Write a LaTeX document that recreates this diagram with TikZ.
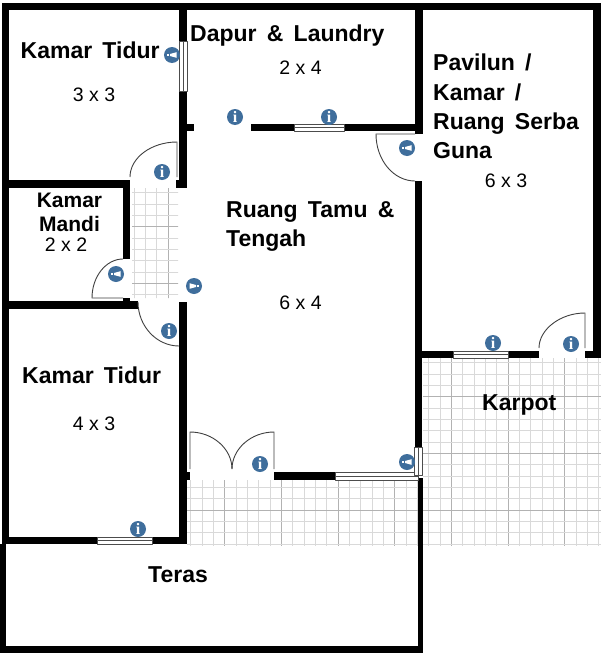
\documentclass[tikz,border=0pt]{standalone}
\usepackage{fontspec}
\setmainfont{Liberation Sans}
\newfontfamily\namefont[WordSpace=1.6]{Liberation Sans}
\newfontfamily\signfont{Liberation Serif}
\definecolor{signblue}{HTML}{3F6E9C}
\tikzset{
  roomname/.style={font=\namefont\bfseries\fontsize{23}{29.3}\selectfont,anchor=base west,inner sep=0,align=left},
  roomsize/.style={font=\fontsize{19.5}{24}\selectfont,anchor=base,inner sep=0},
  infosign/.style={circle,fill=signblue,minimum size=16,inner sep=0,text=white,font=\signfont\bfseries\fontsize{16}{16}\selectfont},
  doorsign/.style={circle,fill=signblue,minimum size=16,inner sep=0},
  leaf/.style={line width=0.9,color=black!75},
  pane/.style={line width=0.8,color=black!70,fill=white}
}
\begin{document}
\begin{tikzpicture}[x=1pt,y=-1pt,line join=round]
  \useasboundingbox (0,0) rectangle (601,653);
  \fill [white] (0,0) rectangle (601,653);
  % tiles
  \begin{scope}
    \clip (132,188) rectangle (178,298) (187,480) rectangle (418,546) (423,358) rectangle (601,546);
    \foreach \i in {0,...,41} {
        \pgfmathtruncatemacro{\m}{mod(\i,5)}
        \ifnum \m=3 \draw [color=gray!60,line width=0.7] (134+11.33*\i,188) -- (134+11.33*\i,546);
        \else \draw [color=gray!30,line width=0.7] (134+11.33*\i,188) -- (134+11.33*\i,546); \fi
      }
    \foreach \j in {0,...,31} {
        \pgfmathtruncatemacro{\m}{mod(\j,5)}
        \ifnum \m=3 \draw [color=gray!60,line width=0.7] (130,192.8+11.33*\j) -- (601,192.8+11.33*\j);
        \else \draw [color=gray!30,line width=0.7] (130,192.8+11.33*\j) -- (601,192.8+11.33*\j); \fi
      }
  \end{scope}
  % walls
  \foreach \xa/\ya/\xb/\yb in {2/3/601/10, 2/3/9/544, 179/10/187/41, 179/91/187/188, 176/180/187/188,
      187/124/194/131, 251/124/294/131, 344/124/423/131, 415/3/423/134, 415/181/422/447,
      593/3/601/358, 415/351/453/358, 508/351/539/358, 585/351/601/358,
      2/180/130/188, 123/180/130/259, 123/298/130/302, 2/301/138/309,
      179/302/187/544, 179/472/190/480, 274/472/335/480, 2/537/97/544, 152/537/187/544,
      418/478/423/653, 0/544/6/653, 0/646/423/653} {
      \fill (\xa,\ya) rectangle (\xb,\yb);
    }
  % windows
  \foreach \xa/\ya/\xb/\yb in {294/124/344/131, 335/472/418/480, 97/537/152/544, 453/351/508/358} {
      \draw [pane] (\xa,\ya) rectangle (\xb,\yb);
      \draw [pane] (\xa,\ya/2+\yb/2) -- (\xb,\ya/2+\yb/2);
    }
  \foreach \xa/\ya/\xb/\yb in {179/41/187/91, 414/447/422/475} {
      \draw [pane] (\xa,\ya) rectangle (\xb,\yb);
      \draw [pane] (\xa/2+\xb/2,\ya) -- (\xa/2+\xb/2,\yb);
    }
  % doors
  \draw [leaf] (130,177) .. controls (130,158) and (151,142) .. (177,142) -- (177,177);
  \draw [leaf] (415,181) .. controls (393.5,181) and (376,160) .. (376,134) -- (415,134);
  \draw [leaf] (123,259) .. controls (106,259) and (92,276.5) .. (92,298) -- (123,298);
  \draw [leaf] (138,302) .. controls (138,326) and (156.5,346) .. (179,346);
  \draw [leaf] (190,469) -- (190,432) .. controls (213,432) and (232,449) .. (232,469);
  \draw [leaf] (274,469) -- (274,432) .. controls (251,432) and (232,449) .. (232,469);
  \draw [leaf] (539,348) .. controls (539,329.7) and (560,313) .. (585,313) -- (585,348);
  % signs
  \foreach \x/\y [count=\n] in {235/117, 329/117, 162/172, 169/331, 260/464, 138/529, 493/343, 571/344} {
      \node (info\n) [infosign] at (\x,\y) {i};
    }
  \foreach \x/\y/\s [count=\n] in {172/55/1, 407/148/1, 116/274/1, 194/286/-1, 407/462/1} {
      \node (door\n) [doorsign] at (\x,\y) {};
      \begin{scope}[shift={(door\n.center)},xscale=\s]
        \fill [white] (-5,-1.3) rectangle (-3,1.3);
        \fill [white] (-2,-1) -- (4.5,-2.8) -- (4.5,2.8) -- (-2,1) -- cycle;
      \end{scope}
    }
  % labels
  \node (tidurtop) [roomname] at (20.5,58) {Kamar Tidur};
  \node (tidurtopsize) [roomsize] at (94,101.5) {3 x 3};
  \node (dapur) [roomname] at (190,41.5) {Dapur \& Laundry};
  \node (dapursize) [roomsize] at (300.5,74) {2 x 4};
  \node (pavilun) [roomname,anchor=north west] at (433,54) {Pavilun /\\Kamar /\\Ruang Serba\\Guna};
  \node (pavilunsize) [roomsize] at (506,187) {6 x 3};
  \node (mandi) [roomname,anchor=north,align=center,font=\namefont\bfseries\fontsize{21}{24.5}\selectfont] at (69.5,192.5) {Kamar\\Mandi};
  \node (mandisize) [roomsize] at (66,251.5) {2 x 2};
  \node (tamu) [roomname,anchor=north west] at (226,201) {Ruang Tamu \&\\Tengah};
  \node (tamusize) [roomsize] at (300.5,309) {6 x 4};
  \node (tidurlow) [roomname] at (22,383) {Kamar Tidur};
  \node (tidurlowsize) [roomsize] at (94,430) {4 x 3};
  \node (karpot) [roomname] at (482,410) {Karpot};
  \node (teras) [roomname] at (148,582.5) {Teras};
\end{tikzpicture}
\end{document}
